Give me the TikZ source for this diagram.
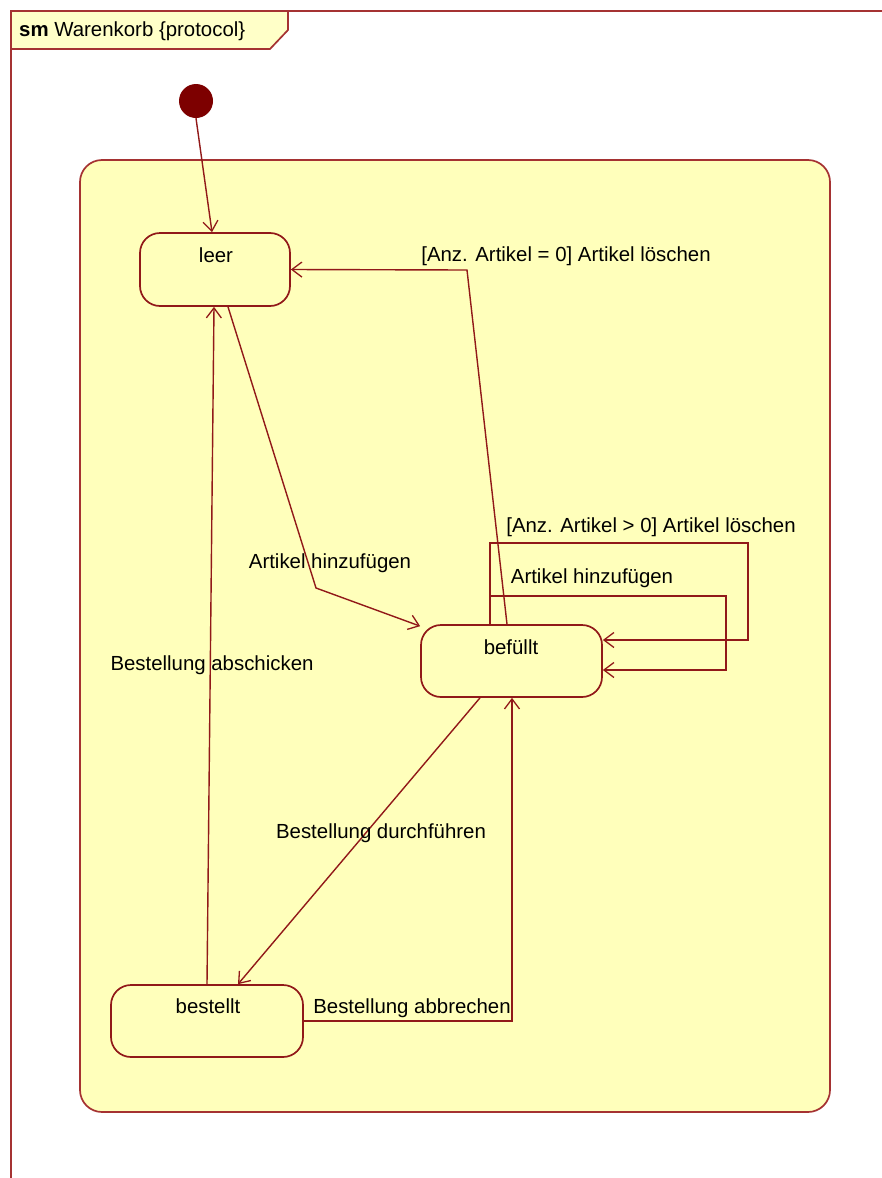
\documentclass[tikz,border=0pt]{standalone}
\usepackage{fontspec}
\setmainfont{Liberation Sans}
\usetikzlibrary{arrows.meta,calc}
\definecolor{umlred}{RGB}{145,25,25}
\definecolor{framered}{RGB}{165,50,50}
\definecolor{umlfill}{RGB}{255,255,187}
\definecolor{tabfill}{RGB}{255,255,200}
\definecolor{dotred}{RGB}{125,0,0}
\begin{document}
\begin{tikzpicture}[x=1pt,y=-1pt,
  every node/.style={font=\fontsize{20.4}{24}\selectfont, text=black, inner sep=0pt},
  statebox/.style={draw=umlred, line width=1.7pt, fill=umlfill, rounded corners=20pt, inner sep=0pt},
  conn/.style={draw=umlred, line width=1.4pt, -{Straight Barb[length=10pt,width=15pt,line width=1.3pt]}},
  lbl/.style={anchor=center}]
\useasboundingbox (0,0) rectangle (882,1178);
\fill[white] (0,0) rectangle (882,1178);
% frame
\draw[framered, line width=1.7pt] (11,1178) -- (11,11) -- (882,11);
\draw[framered, line width=1.7pt, fill=tabfill] (11,11) -- (288,11) -- (288,30) -- (270,49) -- (11,49) -- cycle;
\node[anchor=west] (title) at (19,31) {\textbf{sm} Warenkorb \{protocol\}};
% composite state
\node[draw=framered, line width=1.7pt, fill=umlfill, rounded corners=22pt, minimum width=750pt, minimum height=952pt] (comp) at (455,636) {};
% initial
\node[circle, fill=dotred, minimum size=34pt] (init) at (196,101) {};
% states
\node[statebox, minimum width=150pt, minimum height=73pt] (leer) at (215,269.5) {};
\node[statebox, minimum width=181pt, minimum height=72pt] (bef) at (511.5,661) {};
\node[statebox, minimum width=192pt, minimum height=72pt] (best) at (207,1021) {};
\node[lbl] (leerL) at (216,255) {leer};
\node[lbl] (befL) at (511,647) {befüllt};
\node[lbl] (bestL) at (208,1006) {bestellt};
% connectors
\draw[conn] (init.south) -- ($(leer.north)+(-3,0)$);
\draw[conn] ($(leer.south)+(13,0)$) -- (316,588) -- ($(bef.north west)+(0,2)$);
\draw[conn] ($(bef.north)+(-4.5,0)$) -- (467,270) -- (leer.east);
\draw[conn] ($(bef.north)+(-21.5,0)$) -- (490,543) -- (748,543) -- (748,640) -- ($(bef.east)+(0,-21)$);
\draw[conn] ($(bef.north)+(-21.5,0)$) -- (490,596) -- (726,596) -- (726,670) -- ($(bef.east)+(0,9)$);
\draw[conn] ($(bef.south)+(-31.5,0)$) -- ($(best.north)+(31,0)$);
\draw[conn] (best.north) -- ($(leer.south)+(-1,0)$);
\draw[conn] (best.east) -| ($(bef.south)+(0.5,0)$);
% labels
\node[lbl] (l1) at (566,256) {[Anz. Artikel = 0] Artikel löschen};
\node[lbl] (l2) at (330,563) {Artikel hinzufügen};
\node[lbl] (l3) at (651,527) {[Anz. Artikel > 0] Artikel löschen};
\node[lbl] (l4) at (592,578) {Artikel hinzufügen};
\node[lbl] (l5) at (212,665) {Bestellung abschicken};
\node[lbl] (l6) at (381,833) {Bestellung durchführen};
\node[lbl] (l7) at (412,1008) {Bestellung abbrechen};
\end{tikzpicture}
\end{document}
